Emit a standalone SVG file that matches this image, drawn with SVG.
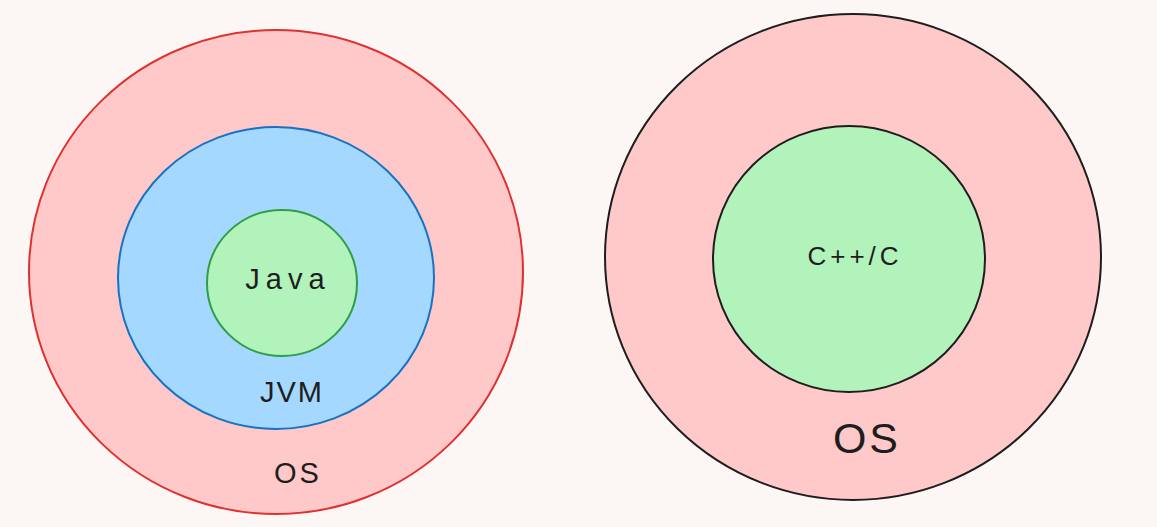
<svg xmlns="http://www.w3.org/2000/svg" width="1157" height="527" viewBox="0 0 1157 527">
<style>
text{font-family:"Liberation Sans","DejaVu Sans",sans-serif;fill:#1e1e1e;text-anchor:middle}
.s{stroke-width:2;stroke-linecap:round}
.pink{fill:#ffc9c9}
.blue{fill:#a5d8ff}
.green{fill:#b2f2bb}
</style>
<rect width="1157" height="527" fill="#fcf7f5"/>
<g id="os-left">
<ellipse class="s pink" cx="276" cy="272" rx="247" ry="242" stroke="#e03131"/>
<text x="298" y="483" font-size="29" letter-spacing="3">OS</text>
</g>
<g id="jvm">
<ellipse class="s blue" cx="276" cy="278" rx="158" ry="151" stroke="#1971c2"/>
<text x="292" y="402" font-size="29" letter-spacing="2">JVM</text>
</g>
<g id="java">
<ellipse class="s green" cx="282" cy="283" rx="75" ry="73" stroke="#2f9e44"/>
<text x="288" y="289" font-size="29" letter-spacing="6">Java</text>
</g>
<g id="os-right">
<ellipse class="s pink" cx="853" cy="257" rx="248" ry="243" stroke="#1e1e1e"/>
<text x="867" y="453" font-size="43" letter-spacing="3">OS</text>
</g>
<g id="cpp">
<ellipse class="s green" cx="849" cy="259" rx="136" ry="133" stroke="#1e1e1e"/>
<text x="855" y="265" font-size="26" letter-spacing="4">C++/C</text>
</g>
<g id="connectors"></g>
</svg>
